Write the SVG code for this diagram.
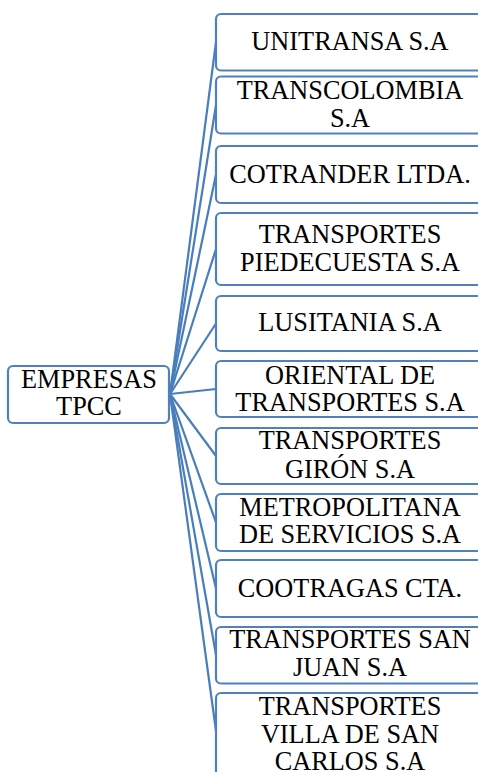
<svg xmlns="http://www.w3.org/2000/svg" width="478" height="772" viewBox="0 0 478 772">
<style>
.box{fill:#ffffff;stroke:#4F81BD;stroke-width:2.2}
.t{font-family:"Liberation Serif","Times New Roman",serif;font-size:26.3px;fill:#000000;text-anchor:middle}
.c{stroke:#4A7EBB;stroke-width:2.2;fill:none}
</style>
<rect width="478" height="772" fill="#ffffff"/>
<g id="connectors">
<line class="c" x1="170" y1="394" x2="216" y2="42"/>
<line class="c" x1="170" y1="394" x2="216" y2="105"/>
<line class="c" x1="170" y1="394" x2="216" y2="174.5"/>
<line class="c" x1="170" y1="394" x2="216" y2="249"/>
<line class="c" x1="170" y1="394" x2="216" y2="323.5"/>
<line class="c" x1="170" y1="394" x2="216" y2="389"/>
<line class="c" x1="170" y1="394" x2="216" y2="456"/>
<line class="c" x1="170" y1="394" x2="216" y2="522.5"/>
<line class="c" x1="170" y1="394" x2="216" y2="588.5"/>
<line class="c" x1="170" y1="394" x2="216" y2="655"/>
<line class="c" x1="170" y1="394" x2="216" y2="731"/>
</g>
<g id="root">
<rect class="box" x="8" y="366" width="161" height="57" rx="5"/>
<text class="t" x="89" y="388">EMPRESAS</text>
<text class="t" x="89" y="415">TPCC</text>
</g>
<g id="n1">
<rect class="box" x="216" y="14" width="268" height="56.5" rx="5"/>
<text class="t" x="350" y="50">UNITRANSA S.A</text>
</g>
<g id="n2">
<rect class="box" x="216" y="76.5" width="268" height="57" rx="5"/>
<text class="t" x="350" y="99">TRANSCOLOMBIA</text>
<text class="t" x="350" y="126.7">S.A</text>
</g>
<g id="n3">
<rect class="box" x="216" y="146" width="268" height="57" rx="5"/>
<text class="t" x="350" y="182.7">COTRANDER LTDA.</text>
</g>
<g id="n4">
<rect class="box" x="216" y="213" width="268" height="72" rx="5"/>
<text class="t" x="350" y="242.5">TRANSPORTES</text>
<text class="t" x="350" y="271">PIEDECUESTA S.A</text>
</g>
<g id="n5">
<rect class="box" x="216" y="296" width="268" height="55" rx="5"/>
<text class="t" x="350" y="331">LUSITANIA S.A</text>
</g>
<g id="n6">
<rect class="box" x="216" y="361" width="268" height="56" rx="5"/>
<text class="t" x="350" y="384.3">ORIENTAL DE</text>
<text class="t" x="350" y="411">TRANSPORTES S.A</text>
</g>
<g id="n7">
<rect class="box" x="216" y="428" width="268" height="56" rx="5"/>
<text class="t" x="350" y="449.3">TRANSPORTES</text>
<text class="t" x="350" y="477.7">GIRÓN S.A</text>
</g>
<g id="n8">
<rect class="box" x="216" y="494" width="268" height="57" rx="5"/>
<text class="t" x="350" y="515.5">METROPOLITANA</text>
<text class="t" x="350" y="543.3">DE SERVICIOS S.A</text>
</g>
<g id="n9">
<rect class="box" x="216" y="560" width="268" height="57" rx="5"/>
<text class="t" x="350" y="596.7">COOTRAGAS CTA.</text>
</g>
<g id="n10">
<rect class="box" x="216" y="627" width="268" height="56.5" rx="5"/>
<text class="t" x="350" y="648.3">TRANSPORTES SAN</text>
<text class="t" x="350" y="676">JUAN S.A</text>
</g>
<g id="n11">
<rect class="box" x="216" y="693" width="268" height="100" rx="5"/>
<text class="t" x="350" y="715">TRANSPORTES</text>
<text class="t" x="350" y="742.7">VILLA DE SAN</text>
<text class="t" x="350" y="769.5">CARLOS S.A</text>
</g>
</svg>
